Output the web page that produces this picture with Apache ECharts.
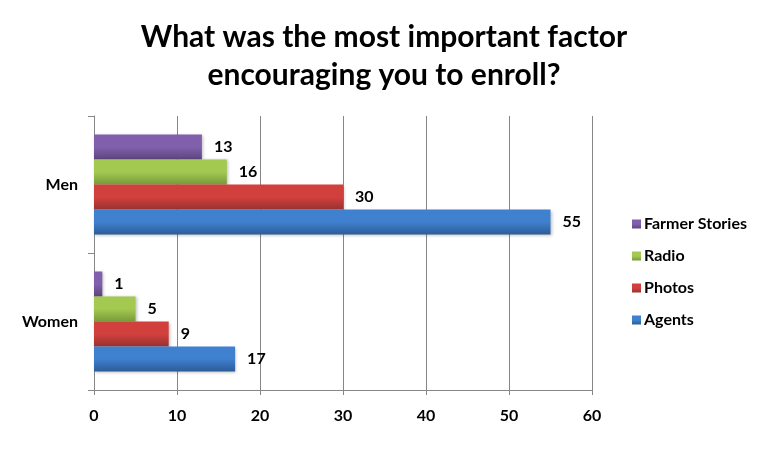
<!DOCTYPE html>
<html><head><meta charset="utf-8">
<script src="https://cdn.jsdelivr.net/npm/echarts@6/dist/echarts.min.js"></script>
<style>html,body{margin:0;padding:0;background:#fff}#c{width:768px;height:449px}</style>
</head><body><div id="c"></div>
<script>
const categories = ['Women', 'Men'];
const agents = [17, 55];
const photos = [9, 30];
const radio = [5, 16];
const farmerStories = [1, 13];
const xTicks = [0, 10, 20, 30, 40, 50, 60];

const FONT = 'Lato, "Open Sans", sans-serif';
function grad(top, bottom) {
  return new echarts.graphic.LinearGradient(0, 0, 0, 1, [
    {offset: 0, color: top}, {offset: 0.5, color: top}, {offset: 1, color: bottom}
  ]);
}
function mk(name, data, top, bottom) {
  return {
    name: name, type: 'bar', data: data, barGap: '0%', barCategoryGap: '27%',
    itemStyle: {color: grad(top, bottom), shadowColor: 'rgba(0,0,0,0.25)', shadowBlur: 3, shadowOffsetX: 1, shadowOffsetY: 1},
    label: {show: true, position: 'right', distance: 12, color: '#000', fontFamily: FONT, fontWeight: 'bold', fontSize: 16},
    emphasis: {disabled: true}
  };
}
const chart = echarts.init(document.getElementById('c'));
chart.setOption({
  animation: false,
  title: {
    text: 'What was the most important factor\nencouraging you to enroll?',
    left: 379, top: 13, textAlign: 'center',
    textStyle: {fontFamily: FONT, fontWeight: 'bold', fontSize: 30, lineHeight: 38, color: '#000'}
  },
  legend: {
    orient: 'vertical', left: 627, top: 211, itemGap: 16, itemWidth: 9, itemHeight: 9,
    icon: 'rect',
    data: ['Farmer Stories', 'Radio', 'Photos', 'Agents'],
    textStyle: {fontFamily: FONT, fontWeight: 'bold', fontSize: 16, color: '#000', padding: [0, 0, 0, -2]}
  },
  grid: {left: 94, top: 116, width: 498, height: 274, containLabel: false},
  xAxis: {
    type: 'value', min: 0, max: 60, interval: 10,
    axisLine: {show: true, lineStyle: {color: '#868686'}},
    axisTick: {show: true, length: 5, lineStyle: {color: '#868686'}},
    splitLine: {show: true, lineStyle: {color: '#868686'}},
    axisLabel: {margin: 18, color: '#000', fontFamily: FONT, fontWeight: 'bold', fontSize: 16,
      formatter: v => String(xTicks[xTicks.indexOf(v)])}
  },
  yAxis: {
    type: 'category', data: categories,
    axisLine: {show: true, lineStyle: {color: '#868686'}},
    axisTick: {show: true, length: 6, lineStyle: {color: '#868686'}},
    axisLabel: {margin: 16, color: '#000', fontFamily: FONT, fontWeight: 'bold', fontSize: 16}
  },
  series: [
    mk('Farmer Stories', farmerStories, '#8060ac', '#5d457e'),
    mk('Radio', radio, '#a3c951', '#789a3a'),
    mk('Photos', photos, '#d2403d', '#983230'),
    mk('Agents', agents, '#3f80cf', '#2c5c98')
  ],
  color: ['#7556a0', '#93b84a', '#c63c39', '#3c78c4']
});
</script></body></html>
